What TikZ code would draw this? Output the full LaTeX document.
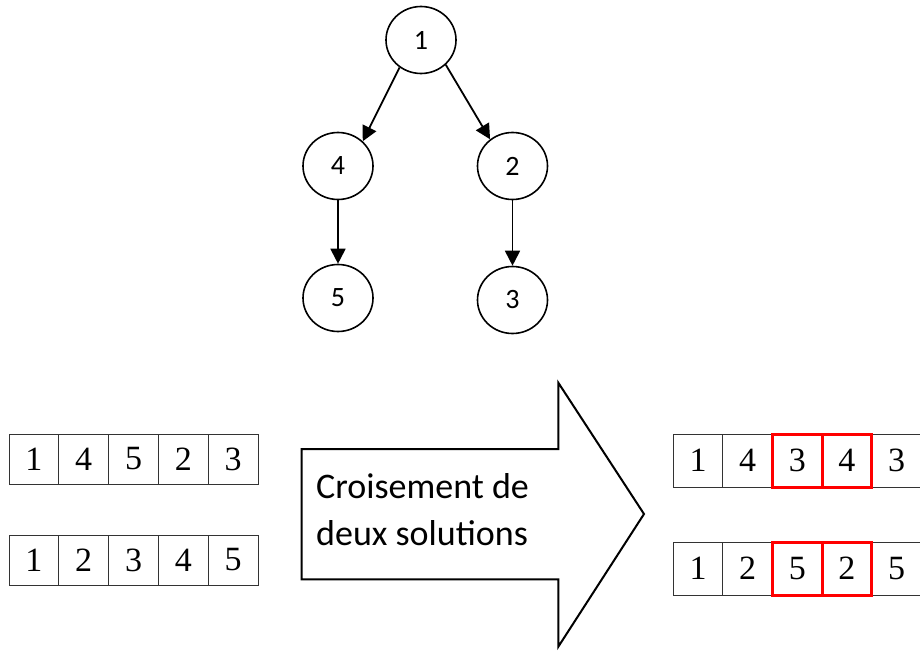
\documentclass[tikz,border=0pt]{standalone}
\usepackage{fontspec}
\setmainfont{Liberation Serif}
\newfontfamily\carl{Carlito}
\usetikzlibrary{shapes.geometric,arrows.meta}
\begin{document}
\begin{tikzpicture}[x=1pt,y=-1pt,
  tnode/.style={draw=black,line width=1.6pt,ellipse,minimum width=70pt,minimum height=67pt,inner sep=0pt,font=\carl\fontsize{28}{32}\selectfont},
  tarrow/.style={line width=1.8pt,-{Triangle[length=15pt,width=15pt]}},
  cellbox/.style={draw=black!80,line width=1pt,minimum width=49.8pt,minimum height=50pt,inner sep=0pt,font=\fontsize{34}{38}\selectfont},
  cellboxr/.style={cellbox,minimum width=49.6pt,minimum height=53pt},
  redbox/.style={draw=red,line width=3pt,minimum width=49.6pt,minimum height=53pt,inner sep=0pt},
  bigarrow/.style={draw=black,line width=2pt,line join=miter}
]
\useasboundingbox (0,0) rectangle (920,650);
\clip (0,0) rectangle (920,650);
% tree
\node[tnode] (n1) at (421,40) {\raisebox{-3pt}{1}};
\node[tnode] (n4) at (338,166) {\raisebox{-3pt}{4}};
\node[tnode] (n2) at (512.5,166) {\raisebox{-3pt}{2}};
\node[tnode] (n5) at (338,298) {\raisebox{-3pt}{5}};
\node[tnode] (n3) at (512.5,300) {\raisebox{-3pt}{3}};
\draw[tarrow] (n1.232) -- (n4.45);
\draw[tarrow] (n1.315) -- (n2.130);
\draw[tarrow] (n4.south) -- (n5.north);
\draw[tarrow] (n2.south) -- (n3.north);
% left arrays
\foreach \v [count=\i] in {1,4,5,2,3} {
  \node[cellbox] (a\i) at ({9+24.9+49.8*(\i-1)},459) {\v};
}
\foreach \v [count=\i] in {1,2,3,4,5} {
  \node[cellbox] (b\i) at ({9+24.9+49.8*(\i-1)},560) {\v};
}
% right arrays
\foreach \v [count=\i] in {1,4,3,4,3} {
  \node[cellboxr] (c\i) at ({673.3+24.8+49.6*(\i-1)},460.5) {\v};
}
\foreach \v [count=\i] in {1,2,5,2,5} {
  \node[cellboxr] (d\i) at ({673.3+24.8+49.6*(\i-1)},568.5) {\v};
}
\node[redbox] (rc3) at (c3) {};
\node[redbox] (rc4) at (c4) {};
\node[redbox] (rd3) at (d3) {};
\node[redbox] (rd4) at (d4) {};
% block arrow
\draw[bigarrow] (301.7,449) -- (558.3,449) -- (558.3,382.7) -- (644,514) -- (558.3,646.7) -- (558.3,579.3) -- (301.7,579.3) -- cycle;
\node[anchor=base west,inner sep=0pt,align=left,font=\carl\fontsize{36}{47}\selectfont] (txt) at (316,545) {Croisement de\\deux solutions};
\end{tikzpicture}
\end{document}
